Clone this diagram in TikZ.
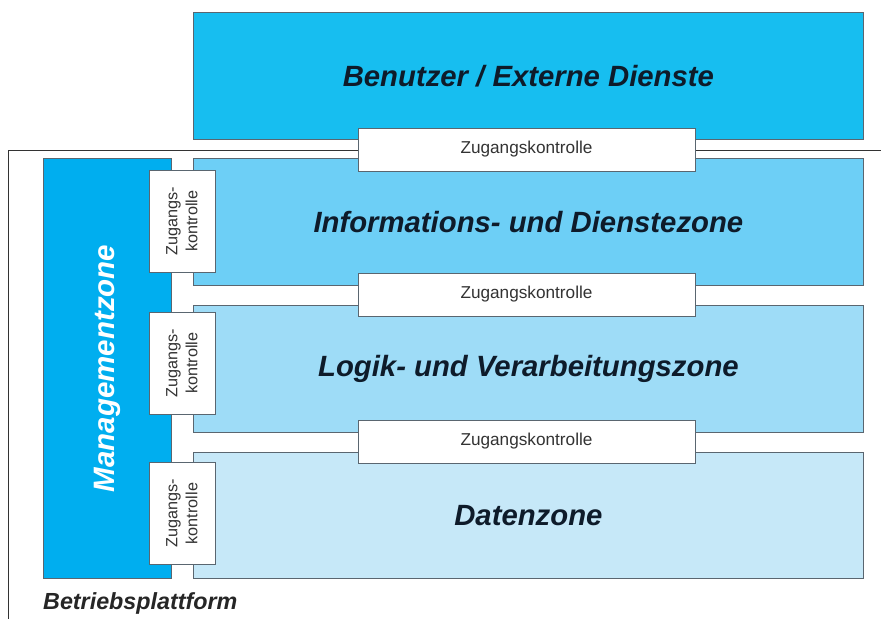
\documentclass[tikz,border=0pt]{standalone}
\usepackage{fontspec}
\setmainfont{Liberation Sans}
\definecolor{userblue}{HTML}{17BEF0}
\definecolor{mgmtblue}{HTML}{00AEEF}
\definecolor{infoblue}{HTML}{6DCFF6}
\definecolor{logicblue}{HTML}{9EDCF7}
\definecolor{datablue}{HTML}{C6E8F8}
\definecolor{edgegray}{HTML}{5A6670}
\definecolor{labelink}{HTML}{0E1B2A}
\begin{document}
\begin{tikzpicture}[
 x=1pt,y=-1pt,
 zone/.style={draw=edgegray,line width=.8pt,inner sep=0pt,anchor=north west,
   minimum width=670pt,minimum height=127pt,text=labelink,
   font=\fontsize{29.3}{32}\selectfont\bfseries\itshape},
 gate/.style={draw=edgegray,fill=white,line width=.8pt,inner sep=0pt,
   minimum width=337pt,minimum height=43pt,text=black!80,
   font=\fontsize{17.2}{19}\selectfont},
 sidegate/.style={gate,rotate=90,align=center,minimum width=102pt,
   minimum height=66pt,font=\fontsize{16.2}{20}\selectfont},
 frame/.style={draw=black!80,line width=.9pt}]
 \useasboundingbox (0,0) rectangle (881,619);
 % Platform frame, open to the right and below.
 \draw[frame] (881,150)--(8,150)--(8,619);
 \node[font=\fontsize{23.3}{25}\selectfont\bfseries\itshape,text=black!85,anchor=west,
   inner sep=0pt] (platform) at (43,603) {Betriebsplattform};
 % External side.
 \node[zone,fill=userblue] (users) at (193,12) {Benutzer / Externe Dienste};
 % Zones inside the platform.
 \node[zone,fill=infoblue] (info) at (193,158) {Informations- und Dienstezone};
 \node[zone,fill=logicblue] (logic) at (193,305) {Logik- und Verarbeitungszone};
 \node[zone,fill=datablue,minimum height=126pt] (data) at (193,452) {Datenzone};
 \node[zone,fill=mgmtblue,minimum width=128pt,minimum height=420pt] (mgmt) at (43,158) {};
 \node[rotate=90,text=white,font=\fontsize{29.5}{32}\selectfont\bfseries\itshape]
   (mgmtlabel) at (mgmt.center) {Managementzone};
 % Access control between the zones.
 \node[gate] (gateusers) at (526.5,149.5) {Zugangskontrolle};
 \node[gate] (gateinfo) at (526.5,294.5) {Zugangskontrolle};
 \node[gate] (gatelogic) at (526.5,441.5) {Zugangskontrolle};
 % Access control from the management zone.
 \foreach \y/\n in {221/mgmtinfo,363/mgmtlogic,513.5/mgmtdata}{
  \node[sidegate] (\n) at (182,\y) {Zugangs-\\kontrolle};
 }
\end{tikzpicture}
\end{document}
